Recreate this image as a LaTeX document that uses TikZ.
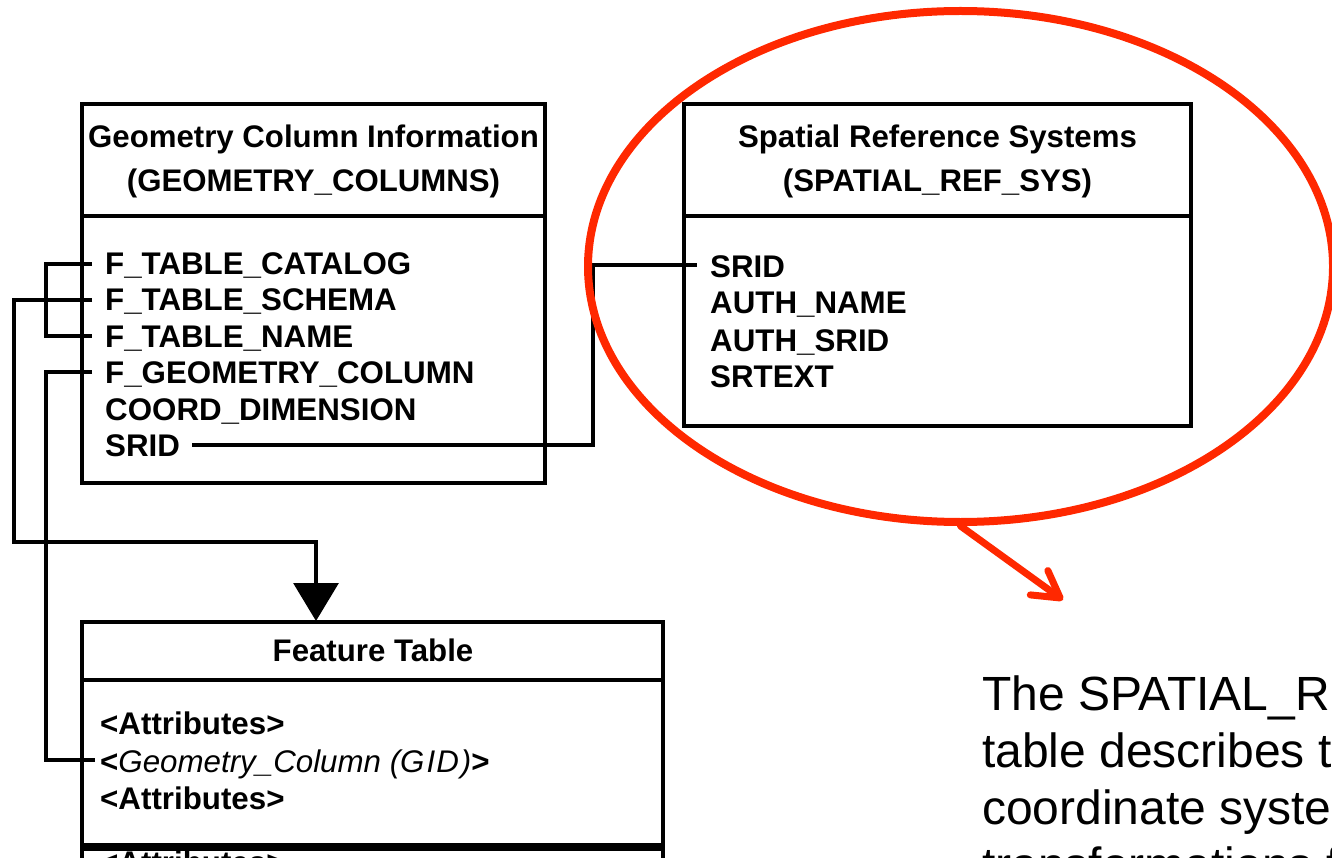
\documentclass[tikz,border=0pt]{standalone}
\usepackage{fontspec}
\setmainfont{Liberation Sans}
\usetikzlibrary{shapes.geometric,arrows.meta}
\definecolor{ovalred}{RGB}{255,40,0}
\begin{document}
\begin{tikzpicture}[x=1pt,y=-1pt,
  box/.style={draw, line width=3.2pt, anchor=north west, inner sep=0pt, outer sep=0pt},
  headtxt/.style={font=\fontsize{31.2}{36}\selectfont\bfseries, anchor=base, inner sep=0pt},
  rowtxt/.style={font=\fontsize{31.3}{36}\selectfont\bfseries, anchor=base west, inner sep=0pt},
  conn/.style={line width=3.2pt},
  thickconn/.style={line width=4.6pt},
  desc/.style={font=\fontsize{48}{57}\selectfont, anchor=base west, inner sep=0pt}]
\useasboundingbox (0,0) rectangle (1332,858);
\fill[white] (0,0) rectangle (1332,858);
\clip (0,0) rectangle (1332,858);

% Geometry Column Information table
\node[box, minimum width=463pt, minimum height=112pt] (gchead) at (82,104) {};
\node[box, minimum width=463pt, minimum height=267pt] (gcbody) at (82,216) {};
\node[headtxt] (gch1) at (313.5,148) {Geometry Column Information};
\node[headtxt] (gch2) at (313.5,192) {(GEOMETRY\_COLUMNS)};
\node[rowtxt] (gc1) at (105,275) {F\_TABLE\_CATALOG};
\node[rowtxt] (gc2) at (105,311) {F\_TABLE\_SCHEMA};
\node[rowtxt] (gc3) at (105,347) {F\_TABLE\_NAME};
\node[rowtxt] (gc4) at (105,383) {F\_GEOMETRY\_COLUMN};
\node[rowtxt] (gc5) at (105,420) {COORD\_DIMENSION};
\node[rowtxt] (gc6) at (105,456) {SRID};

% Spatial Reference Systems table
\node[box, minimum width=507pt, minimum height=112pt] (srhead) at (684,104) {};
\node[box, minimum width=507pt, minimum height=210pt] (srbody) at (684,216) {};
\node[headtxt] (srh1) at (937.5,148) {Spatial Reference Systems};
\node[headtxt] (srh2) at (937.5,192) {(SPATIAL\_REF\_SYS)};
\node[rowtxt] (sr1) at (710,278) {SRID};
\node[rowtxt] (sr2) at (710,314) {AUTH\_NAME};
\node[rowtxt] (sr3) at (710,351) {AUTH\_SRID};
\node[rowtxt] (sr4) at (710,387) {SRTEXT};

% Feature Table
\node[box, minimum width=581pt, minimum height=58pt] (fthead) at (82,622) {};
\node[box, minimum width=581pt, minimum height=165pt] (ftbody) at (82,680) {};
\node[box, minimum width=581pt, minimum height=60pt] (ftnext) at (82,849) {};
\node[headtxt] (fth) at (373,661) {Feature Table};
\node[rowtxt] (fa1) at (100,734) {<Attributes>};
\node[rowtxt] (fa2) at (100,772) {<{\mdseries\itshape Geometry\_Column (G\kern2ptI\kern1ptD\kern2pt)}>};
\node[rowtxt] (fa3) at (100,809) {<Attributes>};
\node[rowtxt] (fa4) at (100,873) {<Attributes>};

% connector end points
\coordinate (t1) at (92,264);
\coordinate (t2) at (92,300);
\coordinate (t3) at (92,336);
\coordinate (t4) at (92,372);
\coordinate (tg) at (95,760);
\coordinate (ftin) at (316,621);
\coordinate (s1) at (192,445);
\coordinate (s2) at (697,265);
\coordinate (b1) at (14,300);
\coordinate (b2) at (14,542);

% connectors
\draw[conn] (t1) -- (46,264) -- (46,336) -- (t3);
\draw[conn, -{Triangle[length=38pt,width=45pt]}] (t2) -- (b1) -- (b2) -- (316,542) -- (ftin);
\draw[thickconn] (b1) -- (b2);
\draw[conn] (t4) -- (46,372) -- (46,760) -- (tg);
\draw[conn] (s1) -- (593,445) -- (593,265) -- (s2);

% red highlight
\node[draw=ovalred, line width=8pt, ellipse, minimum width=745pt, minimum height=511pt, inner sep=0pt] (oval) at (960.5,266.5) {};
\coordinate (arrend) at (1063,600);
\draw[ovalred, line width=7pt, line cap=round, line join=round,
  -{Straight Barb[length=26pt,width=30pt,line cap=round,line join=round]}] (oval.south) -- (arrend);

% description text
\node[desc] (d1) at (982,710) {The SPATIAL\_REF\_SYS};
\node[desc] (d2) at (982,767) {table describes the};
\node[desc] (d3) at (982,824) {coordinate system};
\node[desc] (d4) at (982,881) {transformations for};
\end{tikzpicture}
\end{document}
